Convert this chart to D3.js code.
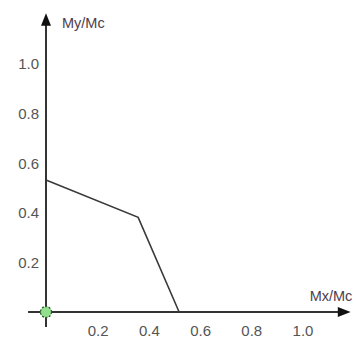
<!DOCTYPE html>
<html>
<head>
<meta charset="utf-8">
<script src="https://cdn.jsdelivr.net/npm/d3@7"></script>
<style>
  body { margin: 0; background: #fff; }
  svg { display: block; }
  .tick-label { font-family: "Liberation Sans", Arial, sans-serif; font-size: 15px; fill: #555; }
  .axis-title { font-family: "Liberation Sans", Arial, sans-serif; font-size: 14.5px; fill: #4e3e4c; }
</style>
</head>
<body>
<div id="chart"></div>
<script>
// interaction curve My/Mc vs Mx/Mc
const mxValues = [0, 0.36, 0.52];
const myValues = [0.53, 0.38, 0];
const tickValues = [0.2, 0.4, 0.6, 0.8, 1.0];
const xTitle = "Mx/Mc";
const yTitle = "My/Mc";

const W = 361, H = 341;
const x = d3.scaleLinear().domain([0, 1]).range([46, 302]);
const y = d3.scaleLinear().domain([0, 1]).range([312, 63]);

const svg = d3.select("#chart").append("svg")
  .attr("width", W).attr("height", H);

const axisColor = "#333";

// axes lines with arrow heads
svg.append("line")
  .attr("x1", x(-0.07)).attr("y1", y(0))
  .attr("x2", x(1.17)).attr("y2", y(0))
  .attr("stroke", axisColor).attr("stroke-width", 2);
svg.append("path")
  .attr("d", `M${x(1.19)},${y(0)} L${x(1.14)},${y(0) - 5} L${x(1.14)},${y(0) + 5} Z`)
  .attr("fill", "#111");

svg.append("line")
  .attr("x1", x(0)).attr("y1", y(-0.06))
  .attr("x2", x(0)).attr("y2", y(1.18))
  .attr("stroke", axisColor).attr("stroke-width", 2);
svg.append("path")
  .attr("d", `M${x(0)},${y(1.2)} L${x(0) - 5},${y(1.15)} L${x(0) + 5},${y(1.15)} Z`)
  .attr("fill", "#111");

// tick labels
svg.selectAll("text.xt").data(tickValues).join("text")
  .attr("class", "tick-label xt")
  .attr("x", d => x(d) + 1)
  .attr("y", y(0) + 24)
  .attr("text-anchor", "middle")
  .text(d => d3.format(".1f")(d));

svg.selectAll("text.yt").data(tickValues).join("text")
  .attr("class", "tick-label yt")
  .attr("x", x(0) - 7)
  .attr("y", d => y(d) + 6)
  .attr("text-anchor", "end")
  .text(d => d3.format(".1f")(d));

// titles
svg.append("text").attr("class", "axis-title")
  .attr("x", x(0) + 16).attr("y", y(1.14))
  .text(yTitle);
svg.append("text").attr("class", "axis-title")
  .attr("x", x(1.03)).attr("y", y(0) - 11)
  .text(xTitle);

// curve
const pts = mxValues.map((d, i) => [d, myValues[i]]);
svg.append("path")
  .datum(pts)
  .attr("d", d3.line().x(d => x(d[0])).y(d => y(d[1])))
  .attr("fill", "none")
  .attr("stroke", "#3a3a3a")
  .attr("stroke-width", 1.6);

// origin marker
svg.append("circle")
  .attr("cx", x(0)).attr("cy", y(0)).attr("r", 5.5)
  .attr("fill", "#92e08e")
  .attr("stroke", "#2f5a2f")
  .attr("stroke-width", 1.3)
  .attr("stroke-dasharray", "2,1.5");
</script>
</body>
</html>
